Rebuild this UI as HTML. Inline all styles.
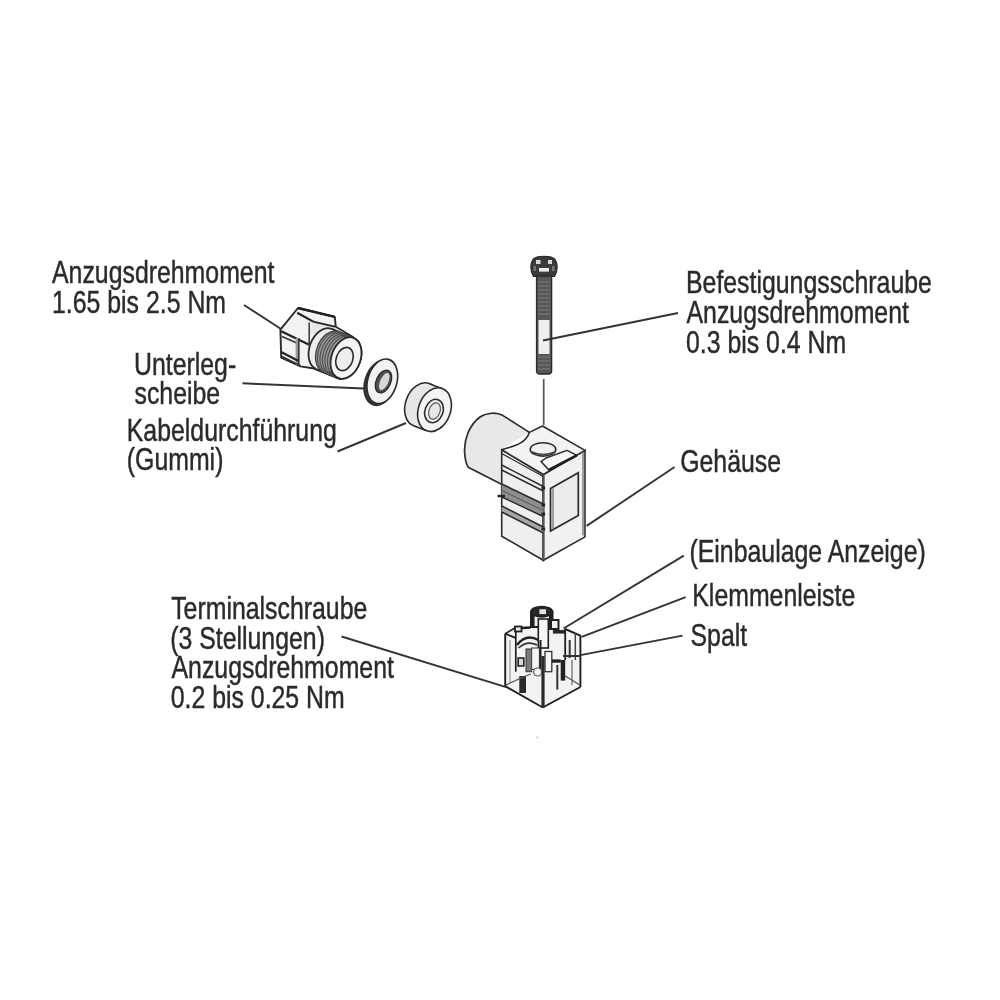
<!DOCTYPE html>
<html><head><meta charset="utf-8"><style>
html,body{margin:0;padding:0;background:#fff;width:1000px;height:1000px;overflow:hidden}
svg{display:block;filter:blur(0.35px)}
text{font-family:"Liberation Sans",sans-serif;font-size:30.5px;fill:#2b2b2b;stroke:#2b2b2b;stroke-width:0.45px}
</style></head><body>
<svg width="1000" height="1000" viewBox="0 0 1000 1000">
<rect width="1000" height="1000" fill="#fff"/>
<polygon points="298,308 334.8,316.8 335.8,326.8 353,337 340,379 314,368.5 300.4,366.4 281.2,357.6 280.4,329.6" fill="#f2f2f2" stroke="#2b2b2b" stroke-width="1.9" stroke-linejoin="round"/>
<polygon points="313.2,321.6 335.8,326.8 335.8,333 309.2,333.6" fill="#e6e6e6"/>
<line x1="297.2" y1="312.8" x2="313.2" y2="321.6" stroke="#222" stroke-width="2.2"/>
<line x1="313.2" y1="321.6" x2="335.8" y2="326.8" stroke="#222" stroke-width="1.8"/>
<line x1="298" y1="308" x2="334.8" y2="316.8" stroke="#1e1e1e" stroke-width="2.4"/>
<line x1="281.2" y1="331.2" x2="309.2" y2="344.8" stroke="#222" stroke-width="2.2"/>
<line x1="309.2" y1="322.4" x2="309.2" y2="344.8" stroke="#333" stroke-width="1.5"/>
<line x1="282" y1="336.5" x2="298" y2="343.5" stroke="#333" stroke-width="1.6"/>
<rect x="295.6" y="338" width="3.2" height="27" fill="#999"/>
<line x1="298.8" y1="338" x2="298.8" y2="366" stroke="#333" stroke-width="1.6"/>
<line x1="281.2" y1="352" x2="298" y2="360.8" stroke="#222" stroke-width="2.2"/>
<line x1="282" y1="356.5" x2="300.4" y2="365.6" stroke="#333" stroke-width="1.6"/>
<ellipse cx="324" cy="349" rx="14.5" ry="21.5" transform="rotate(20 324 349)" fill="#ededed" stroke="#2b2b2b" stroke-width="1.8" />
<polygon points="338.29,378.07 316.29,369.07 331.71,328.93 353.71,337.93" fill="#ededed"/>
<line x1="338.29" y1="378.07" x2="316.29" y2="369.07" stroke="#2b2b2b" stroke-width="1.8"/>
<line x1="353.71" y1="337.93" x2="331.71" y2="328.93" stroke="#2b2b2b" stroke-width="1.8"/>
<ellipse cx="346" cy="358" rx="14.5" ry="21.5" transform="rotate(20 346 358)" fill="#f4f4f4" stroke="#2b2b2b" stroke-width="1.8" />
<polygon points="335.29,376.87 323.29,371.97 338.71,331.83 350.71,336.73" fill="#9a9a9a"/>
<ellipse cx="331" cy="351.9" rx="14.5" ry="21.5" transform="rotate(20 331 351.9)" fill="#9a9a9a" stroke="#444" stroke-width="1.3" />
<ellipse cx="333" cy="352.67" rx="14.5" ry="21.5" transform="rotate(20 333 352.67)" fill="none" stroke="#505050" stroke-width="1.2" />
<ellipse cx="335.5" cy="353.695" rx="14.5" ry="21.5" transform="rotate(20 335.5 353.695)" fill="none" stroke="#505050" stroke-width="1.2" />
<ellipse cx="338" cy="354.72" rx="14.5" ry="21.5" transform="rotate(20 338 354.72)" fill="none" stroke="#505050" stroke-width="1.2" />
<ellipse cx="340.5" cy="355.745" rx="14.5" ry="21.5" transform="rotate(20 340.5 355.745)" fill="none" stroke="#505050" stroke-width="1.2" />
<ellipse cx="343" cy="356.77" rx="14.5" ry="21.5" transform="rotate(20 343 356.77)" fill="none" stroke="#505050" stroke-width="1.2" />
<ellipse cx="346" cy="358" rx="14.5" ry="21.5" transform="rotate(20 346 358)" fill="#f4f4f4" stroke="#2b2b2b" stroke-width="1.8" />
<ellipse cx="344.5" cy="359" rx="8.3" ry="12" transform="rotate(20 344.5 359)" fill="#eeeeee" stroke="#2b2b2b" stroke-width="1.6" />
<ellipse cx="379.8" cy="383" rx="15" ry="22.8" transform="rotate(16 379.8 383)" fill="#3c3c3c" stroke="#2b2b2b" stroke-width="1.6" />
<ellipse cx="382.3" cy="381.3" rx="14.6" ry="22.8" transform="rotate(16 382.3 381.3)" fill="#f2f2f2" stroke="#2b2b2b" stroke-width="1.6" />
<ellipse cx="383.5" cy="381.5" rx="7.2" ry="12" transform="rotate(24 383.5 381.5)" fill="#505050" stroke="#2b2b2b" stroke-width="1.4" />
<ellipse cx="384.3" cy="381.5" rx="4.0" ry="9.2" transform="rotate(24 384.3 381.5)" fill="#d6d6d6" stroke="none" stroke-width="0" />
<ellipse cx="421.5" cy="404.7" rx="16" ry="22.5" transform="rotate(20 421.5 404.7)" fill="#e6e6e6" stroke="#2b2b2b" stroke-width="1.6" />
<polygon points="426.61,430.77 413.61,425.77 429.39,383.63 442.39,388.63" fill="#e6e6e6"/>
<line x1="426.61" y1="430.77" x2="413.61" y2="425.77" stroke="#2b2b2b" stroke-width="1.6"/>
<line x1="442.39" y1="388.63" x2="429.39" y2="383.63" stroke="#2b2b2b" stroke-width="1.6"/>
<ellipse cx="434.5" cy="409.7" rx="16" ry="22.5" transform="rotate(20 434.5 409.7)" fill="#f4f4f4" stroke="#2b2b2b" stroke-width="1.6" />
<ellipse cx="434" cy="411" rx="9" ry="12" transform="rotate(20 434 411)" fill="#f0f0f0" stroke="#2b2b2b" stroke-width="1.6" />
<ellipse cx="434.5" cy="411" rx="5.5" ry="8.5" transform="rotate(20 434.5 411)" fill="#e6e6e6" stroke="#555" stroke-width="1.2" />
<path d="M533.5,276.5 C530,271.5 529.8,262.5 534,258.5 C538,255.6 550,255.6 554,258.5 C558.2,262.5 558,271.5 554.5,276.5 Z" fill="#3a3a3a" stroke="#2b2b2b" stroke-width="1.2"/>
<rect x="536" y="260" width="4.5" height="4" fill="#d8d8d8"/><rect x="548" y="260" width="4" height="4" fill="#d8d8d8"/>
<rect x="539" y="268" width="10" height="3.6" fill="#ececec"/>
<rect x="533.5" y="266" width="2.5" height="5" fill="#777"/><rect x="552" y="266" width="2.5" height="5" fill="#777"/>
<path d="M536.6,276 L551.6,276 L551.6,371 Q551.6,374 548,374 L540,374 Q536.6,374 536.6,371 Z" fill="#575757" stroke="#2b2b2b" stroke-width="1.4"/>
<rect x="538.5" y="320" width="11" height="34" fill="#efefef"/>
<line x1="538" y1="282" x2="550" y2="282" stroke="#858585" stroke-width="0.9"/>
<line x1="538" y1="286" x2="550" y2="286" stroke="#858585" stroke-width="0.9"/>
<line x1="538" y1="290" x2="550" y2="290" stroke="#858585" stroke-width="0.9"/>
<line x1="538" y1="294" x2="550" y2="294" stroke="#858585" stroke-width="0.9"/>
<line x1="538" y1="298" x2="550" y2="298" stroke="#858585" stroke-width="0.9"/>
<line x1="538" y1="302" x2="550" y2="302" stroke="#858585" stroke-width="0.9"/>
<line x1="538" y1="306" x2="550" y2="306" stroke="#858585" stroke-width="0.9"/>
<line x1="538" y1="310" x2="550" y2="310" stroke="#858585" stroke-width="0.9"/>
<line x1="538" y1="314" x2="550" y2="314" stroke="#858585" stroke-width="0.9"/>
<line x1="538" y1="357" x2="550" y2="357" stroke="#858585" stroke-width="0.9"/>
<line x1="538" y1="361" x2="550" y2="361" stroke="#858585" stroke-width="0.9"/>
<line x1="538" y1="365" x2="550" y2="365" stroke="#858585" stroke-width="0.9"/>
<line x1="538" y1="369" x2="550" y2="369" stroke="#858585" stroke-width="0.9"/>
<path d="M529.4,432.4 L503,415.6 C497,412 487,412.5 480,417 C469,425 464,440 464.6,452 C465,459 466,464 468.2,467.2 L501.5,484.2 L501.5,449 Z" fill="#e8e8e8" stroke="none"/>
<path d="M529.4,432.4 L503,415.6 C497,412 487,412.5 480,417 C469,425 464,440 464.6,452 C465,459 466,464 468.2,467.2 L501.5,484.2" fill="none" stroke="#2b2b2b" stroke-width="1.7" stroke-linejoin="round"/>
<polygon points="501.7,449.8 543.3,474.5 543.3,560.3 501.7,536.2" fill="#efefef" stroke="#2b2b2b" stroke-width="1.6"/>
<polygon points="543.3,474.5 585,450.4 585,536.9 543.3,560.3" fill="#f1f1f1" stroke="#2b2b2b" stroke-width="1.6"/>
<path d="M542.5,426 L585,450.4 L543.3,474.5 L501.7,449.8 C511,446.5 525,445 529.4,432.4 Z" fill="#f3f3f3" stroke="#2b2b2b" stroke-width="1.6" stroke-linejoin="round"/>
<line x1="543.3" y1="474.5" x2="543.3" y2="560.3" stroke="#555" stroke-width="2.6"/>
<line x1="583" y1="452" x2="583" y2="535.5" stroke="#666" stroke-width="1.2"/>
<line x1="501.7" y1="453.5" x2="543.3" y2="476.5" stroke="#2b2b2b" stroke-width="1.3"/>
<line x1="501.7" y1="465" x2="543.3" y2="486.5" stroke="#2b2b2b" stroke-width="1.5"/>
<line x1="501.7" y1="470" x2="543.3" y2="491" stroke="#2b2b2b" stroke-width="1.5"/>
<polygon points="501.7,484 543.3,504 543.3,516.5 501.7,497" fill="#8e8e8e"/>
<line x1="501.7" y1="484" x2="543.3" y2="504" stroke="#2b2b2b" stroke-width="1.6"/>
<line x1="501.7" y1="490.5" x2="543.3" y2="510.5" stroke="#555" stroke-width="1.0"/>
<line x1="501.7" y1="497" x2="543.3" y2="516.5" stroke="#2b2b2b" stroke-width="1.4"/>
<polygon points="501.7,506 543.3,527 543.3,533 501.7,512" fill="#a8a8a8"/>
<line x1="501.7" y1="506" x2="543.3" y2="527" stroke="#2b2b2b" stroke-width="1.5"/>
<line x1="501.7" y1="512" x2="543.3" y2="533" stroke="#2b2b2b" stroke-width="1.5"/>
<rect x="541.5" y="486.5" width="3.6" height="3" fill="#222"/>
<rect x="541.5" y="503.5" width="3.6" height="3" fill="#222"/>
<rect x="541.5" y="512.5" width="3.6" height="3" fill="#222"/>
<rect x="541.5" y="527.5" width="3.6" height="3" fill="#222"/>
<line x1="497.5" y1="496" x2="505" y2="496" stroke="#222" stroke-width="2.4"/>
<polygon points="550.5,488.5 578.3,472.8 578.3,515.4 550.5,531" fill="#ececec" stroke="#2b2b2b" stroke-width="1.7"/>
<line x1="553" y1="488" x2="553" y2="529.5" stroke="#777" stroke-width="1.3"/>
<ellipse cx="543" cy="449.4" rx="12.8" ry="6.7" transform="rotate(0 543 449.4)" fill="#f0f0f0" stroke="#2b2b2b" stroke-width="1.6" />
<path d="M532,452 Q543,457 555,452" fill="none" stroke="#444" stroke-width="1.4"/>
<polygon points="541,461.6 546,458 567,450.4 576.8,455.3 548.8,470" fill="#f6f6f6" stroke="#2b2b2b" stroke-width="1.5" stroke-linejoin="round"/>
<line x1="548.8" y1="470" x2="576.8" y2="455.3" stroke="#1e1e1e" stroke-width="2.6"/>
<polygon points="504.8,633.6 514.8,626.3 530.5,626 530.5,612 552.9,612 552.9,620 558.5,620 558.5,629 565.2,629 580.6,635.8 580.6,687 542.8,707.5 504.8,686.2" fill="#f3f3f3"/>
<line x1="505.2" y1="633.6" x2="505.2" y2="686.2" stroke="#1f1f1f" stroke-width="1.9"/>
<line x1="580.4" y1="635.5" x2="580.4" y2="687" stroke="#1f1f1f" stroke-width="1.9"/>
<line x1="505.2" y1="686.2" x2="542.8" y2="707.5" stroke="#1f1f1f" stroke-width="1.9"/>
<line x1="542.8" y1="707.5" x2="580.4" y2="687" stroke="#1f1f1f" stroke-width="1.9"/>
<line x1="543" y1="656" x2="543" y2="707.5" stroke="#2a2a2a" stroke-width="3.2"/>
<polyline points="505.2,633.6 515.5,637.8" fill="none" stroke="#1f1f1f" stroke-width="1.8"/>
<line x1="515.8" y1="627" x2="515.8" y2="671.7" stroke="#1f1f1f" stroke-width="1.7"/>
<rect x="515" y="626.5" width="6.5" height="5" fill="#ececec" stroke="#1f1f1f" stroke-width="1.8"/>
<polyline points="521.5,628 530.5,627.5" fill="none" stroke="#1f1f1f" stroke-width="2.6"/>
<polyline points="505.2,633.6 515,628" fill="none" stroke="#1f1f1f" stroke-width="1.6"/>
<rect x="531" y="612" width="21.5" height="15" fill="#f2f2f2" stroke="#1f1f1f" stroke-width="2"/>
<line x1="533" y1="615" x2="533" y2="628" stroke="#1f1f1f" stroke-width="3.2"/>
<line x1="550.5" y1="615" x2="550.5" y2="630" stroke="#1f1f1f" stroke-width="3.0"/>
<rect x="538.3" y="619" width="10" height="29" fill="#f6f6f6" stroke="#1f1f1f" stroke-width="1.6"/>
<ellipse cx="541.7" cy="611.7" rx="10.8" ry="5.2" transform="rotate(0 541.7 611.7)" fill="#262626" stroke="#1f1f1f" stroke-width="1.6" />
<rect x="539.4" y="609.3" width="6.6" height="4.8" fill="#e2e2e2"/>
<rect x="551" y="620" width="7.5" height="9" fill="#f0f0f0" stroke="#1f1f1f" stroke-width="2"/>
<rect x="552.9" y="630" width="12.3" height="3.6" fill="#2a2a2a"/>
<line x1="565.2" y1="629" x2="580.9" y2="635.8" stroke="#1f1f1f" stroke-width="2.0"/>
<line x1="565.2" y1="629" x2="565.2" y2="660" stroke="#1f1f1f" stroke-width="1.8"/>
<line x1="569.7" y1="640" x2="569.7" y2="658" stroke="#333" stroke-width="2.0"/>
<line x1="575.3" y1="633" x2="575.3" y2="660" stroke="#444" stroke-width="1.5"/>
<line x1="563" y1="656" x2="580.9" y2="656" stroke="#333" stroke-width="2.0"/>
<path d="M517,645 Q526,633 538.3,640" fill="none" stroke="#1f1f1f" stroke-width="2.4"/>
<path d="M518.5,648 Q527,640 537,645" fill="none" stroke="#333" stroke-width="1.6"/>
<rect x="518.2" y="658" width="5.6" height="8" fill="#d8d8d8" stroke="#222" stroke-width="1.6"/>
<rect x="526" y="649" width="5.6" height="22.7" fill="#7a7a7a" stroke="#333" stroke-width="1"/>
<rect x="531.6" y="648" width="7.8" height="21.4" fill="#f4f4f4" stroke="#444" stroke-width="1.1"/>
<rect x="519.3" y="676" width="6.7" height="17" fill="#2a2a2a"/>
<line x1="540.5" y1="640" x2="540.5" y2="670" stroke="#1f1f1f" stroke-width="2.0"/>
<ellipse cx="537.6" cy="672" rx="4" ry="4" fill="#f4f4f4" stroke="#555" stroke-width="1.2"/>
<line x1="510" y1="640" x2="510" y2="683" stroke="#888" stroke-width="1.0"/>
<rect x="545" y="651.5" width="6.8" height="20.2" fill="#f6f6f6" stroke="#333" stroke-width="1.3"/>
<rect x="551.8" y="659.4" width="9" height="3.3" fill="#222"/>
<rect x="560.7" y="660" width="4.5" height="20.6" fill="#222"/>
<line x1="557.3" y1="665" x2="557.3" y2="689.6" stroke="#333" stroke-width="2.0"/>
<line x1="572" y1="660" x2="572" y2="685" stroke="#666" stroke-width="1.2"/>
<polyline points="506,685 521,678 531,674" fill="none" stroke="#555" stroke-width="1.3"/>
<polyline points="565.2,676 580,685" fill="none" stroke="#555" stroke-width="1.3"/>
<circle cx="537.5" cy="737.5" r="1.6" fill="#e4e4e4"/>
<line x1="244" y1="305" x2="281" y2="329" stroke="#333" stroke-width="1.9"/>
<line x1="242.5" y1="383.3" x2="364" y2="388.5" stroke="#333" stroke-width="1.9"/>
<line x1="337.5" y1="451.5" x2="406" y2="423" stroke="#333" stroke-width="1.9"/>
<line x1="543" y1="340.5" x2="678" y2="313" stroke="#333" stroke-width="1.9"/>
<line x1="586.6" y1="525.9" x2="674.6" y2="467" stroke="#333" stroke-width="1.9"/>
<line x1="563.5" y1="628.5" x2="683.8" y2="555.6" stroke="#333" stroke-width="1.9"/>
<line x1="581.7" y1="636.9" x2="685.7" y2="597.2" stroke="#333" stroke-width="1.9"/>
<line x1="580.4" y1="655.1" x2="682.5" y2="635.6" stroke="#333" stroke-width="1.9"/>
<line x1="341.5" y1="636.5" x2="507" y2="687.3" stroke="#333" stroke-width="1.9"/>
<line x1="543.7" y1="379" x2="543.7" y2="425" stroke="#555" stroke-width="1.7"/>
<text transform="translate(52,282.5) scale(0.815,1)">Anzugsdrehmoment</text>
<text transform="translate(52,312.5) scale(0.815,1)">1.65 bis 2.5 Nm</text>
<text transform="translate(134,375) scale(0.815,1)">Unterleg-</text>
<text transform="translate(134.5,404.4) scale(0.815,1)">scheibe</text>
<text transform="translate(126.8,441) scale(0.815,1)">Kabeldurchführung</text>
<text transform="translate(126.8,470.3) scale(0.815,1)">(Gummi)</text>
<text transform="translate(686,293) scale(0.815,1)">Befestigungsschraube</text>
<text transform="translate(686.5,323) scale(0.815,1)">Anzugsdrehmoment</text>
<text transform="translate(686,353) scale(0.815,1)">0.3 bis 0.4 Nm</text>
<text transform="translate(680.2,472.4) scale(0.815,1)">Gehäuse</text>
<text transform="translate(689.5,562) scale(0.815,1)">(Einbaulage Anzeige)</text>
<text transform="translate(692.3,606) scale(0.815,1)">Klemmenleiste</text>
<text transform="translate(690.5,645.7) scale(0.815,1)">Spalt</text>
<text transform="translate(171.2,618.6) scale(0.815,1)">Terminalschraube</text>
<text transform="translate(170.2,649.2) scale(0.815,1)">(3 Stellungen)</text>
<text transform="translate(171.5,678.4) scale(0.815,1)">Anzugsdrehmoment</text>
<text transform="translate(170.7,708.3) scale(0.815,1)">0.2 bis 0.25 Nm</text>
</svg></body></html>
